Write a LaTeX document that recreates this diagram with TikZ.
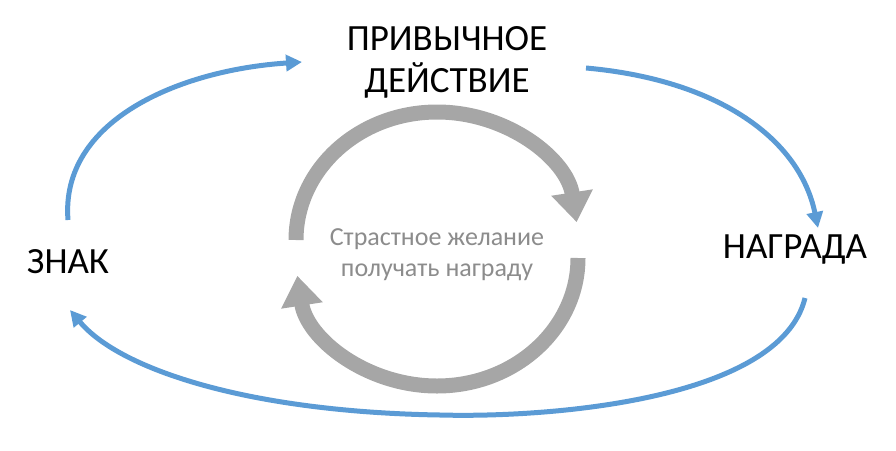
\documentclass[tikz,border=0pt]{standalone}
\usepackage{fontspec}
\setmainfont{Carlito}
\usetikzlibrary{arrows.meta}
\definecolor{bl}{RGB}{91,155,213}
\definecolor{gr}{RGB}{166,166,166}
\definecolor{tg}{RGB}{140,140,140}
\begin{document}
\begin{tikzpicture}[x=1pt,y=-1pt,
  lbl/.style={font=\fontsize{37}{42}\selectfont,align=center},
  blue/.style={draw=bl,line width=5pt,-{Triangle[length=16pt,width=16pt]}},
  grey/.style={draw=gr,line width=15pt,-{Triangle[length=30pt,width=40pt]}}]
\useasboundingbox (0,0) rectangle (896,450);
\node[lbl] (act) at (447,62) {ПРИВЫЧНОЕ\\ДЕЙСТВИЕ};
\node[lbl] (sign) at (68,262) {ЗНАК};
\node[lbl] (rew) at (795,250) {НАГРАДА};
\node[font=\fontsize{26}{31}\selectfont,align=center,text=tg] (mid) at (437,255) {Страстное желание\\получать награду};
\coordinate (a1) at (68,220); \coordinate (a2) at (302,62);
\coordinate (b1) at (586,68); \coordinate (b2) at (818,228);
\coordinate (c1) at (805,298); \coordinate (c2) at (70,310);
\draw[blue] (a1) .. controls (60,120) and (180,70) .. (a2);
\draw[blue] (b1) .. controls (720,80) and (800,140) .. (b2);
\draw[blue] (c1) .. controls (780,400) and (550,418) .. (440,415) .. controls (250,412) and (120,370) .. (c2);
\draw[grey] (296,240) arc[start angle=180,end angle=352,x radius=141,y radius=128];
\draw[grey] (578,258) arc[start angle=0,end angle=172,x radius=141,y radius=128];
\end{tikzpicture}
\end{document}
